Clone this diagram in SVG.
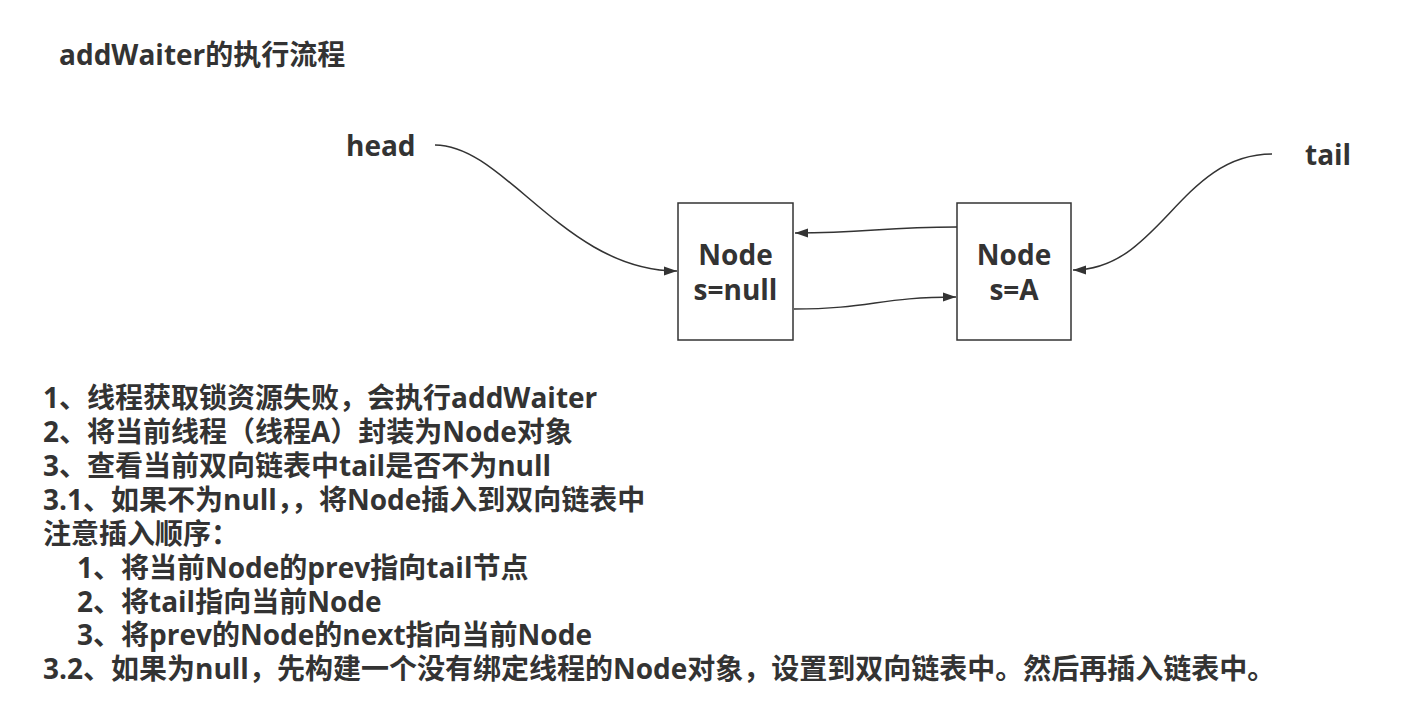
<svg xmlns="http://www.w3.org/2000/svg" width="1403" height="704" viewBox="0 0 1403 704">
<style>
.t{font-family:"Open Sans","Noto Sans CJK SC",sans-serif;font-weight:bold;fill:#333;font-size:28px;}
.box{fill:#fff;stroke:#333;stroke-width:1.5;}
.c{fill:none;stroke:#333;stroke-width:1.5;}
</style>
<defs>
<marker id="ah" markerUnits="userSpaceOnUse" markerWidth="14" markerHeight="10" refX="13" refY="5" orient="auto">
<path d="M0,0.5 L13,5 L0,9.5 Z" fill="#333"/>
</marker>
</defs>
<rect width="1403" height="704" fill="#fff"/>
<text class="t" x="59" y="65">addWaiter的执行流程</text>
<g id="head"><text class="t" x="346" y="156">head</text></g>
<g id="tail"><text class="t" x="1305" y="165">tail</text></g>
<g id="node1">
<rect class="box" x="678" y="203" width="115" height="137"/>
<text class="t" x="735.5" y="265" text-anchor="middle">Node</text>
<text class="t" x="735.5" y="300" text-anchor="middle">s=null</text>
</g>
<g id="node2">
<rect class="box" x="957" y="203" width="114" height="137"/>
<text class="t" x="1014" y="265" text-anchor="middle">Node</text>
<text class="t" x="1014" y="300" text-anchor="middle">s=A</text>
</g>
<g id="connectors">
<path class="c" d="M435,145 C505,145 565,271 677,271" marker-end="url(#ah)"/>
<path class="c" d="M1272,154 C1180,154 1160,270 1073,270" marker-end="url(#ah)"/>
<path class="c" d="M957,227 C880,227 870,233 795,233" marker-end="url(#ah)"/>
<path class="c" d="M794,309 C870,309 880,297 956,297" marker-end="url(#ah)"/>
</g>
<g id="notes">
<text class="t" x="43" y="408">1、线程获取锁资源失败，会执行addWaiter</text>
<text class="t" x="43" y="442">2、将当前线程（线程A）封装为Node对象</text>
<text class="t" x="43" y="476">3、查看当前双向链表中tail是否不为null</text>
<text class="t" x="43" y="510">3.1、如果不为null，，将Node插入到双向链表中</text>
<text class="t" x="43" y="544">注意插入顺序：</text>
<text class="t" x="77" y="578">1、将当前Node的prev指向tail节点</text>
<text class="t" x="77" y="612">2、将tail指向当前Node</text>
<text class="t" x="77" y="645">3、将prev的Node的next指向当前Node</text>
<text class="t" x="43" y="679">3.2、如果为null，先构建一个没有绑定线程的Node对象，设置到双向链表中。然后再插入链表中。</text>
</g>
</svg>
